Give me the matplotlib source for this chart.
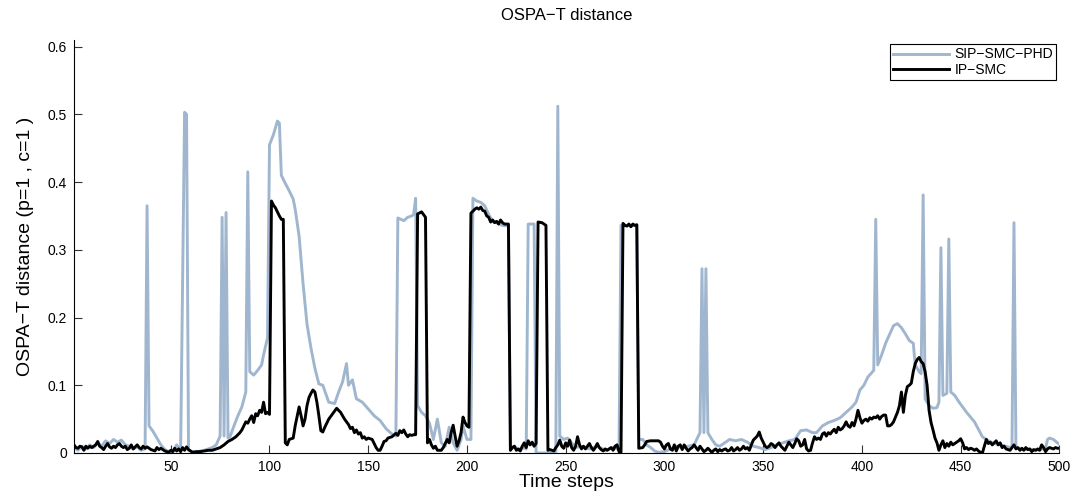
import matplotlib
matplotlib.use("Agg")
import matplotlib.pyplot as plt

plt.rcParams['font.family'] = ['Liberation Sans', 'DejaVu Sans']

title = "OSPA\u2212T distance"
xlabel = "Time steps"
ylabel = "OSPA\u2212T distance (p=1 , c=1 )"
series_names = ["SIP\u2212SMC\u2212PHD", "IP\u2212SMC"]
xticks = [50, 100, 150, 200, 250, 300, 350, 400, 450, 500]
yticks = [0, 0.1, 0.2, 0.3, 0.4, 0.5, 0.6]
ytick_labels = ["0", "0.1", "0.2", "0.3", "0.4", "0.5", "0.6"]

# SIP-SMC-PHD (time step, distance)
sip_points = [
    (1, 0.008), (3, 0.004), (5, 0.01), (7, 0.006), (9, 0.012), (11, 0.008), (13, 0.015), (15, 0.01),
    (17, 0.018), (19, 0.014), (21, 0.02), (23, 0.016), (25, 0.019), (27, 0.012), (29, 0.01), (31, 0.006),
    (33, 0.009), (35, 0.004), (37, 0.006), (38, 0.365), (39, 0.04), (41, 0.032), (43, 0.022), (45, 0.012),
    (47, 0.005), (49, 0.002), (51, 0.001), (53, 0.012), (55, 0.004), (57, 0.503), (58, 0.5), (59, 0.004),
    (61, 0.002), (63, 0.001), (65, 0.003), (67, 0.004), (69, 0.006), (71, 0.008), (73, 0.012), (75, 0.025),
    (76, 0.348), (77, 0.025), (78, 0.355), (79, 0.022), (80, 0.024), (82, 0.04), (84, 0.055), (86, 0.068),
    (88, 0.09), (89, 0.415), (90, 0.12), (92, 0.115), (94, 0.122), (96, 0.13), (97, 0.145), (99, 0.17),
    (100, 0.455), (102, 0.47), (104, 0.49), (105, 0.487), (106, 0.41), (108, 0.398), (110, 0.387),
    (112, 0.375), (113, 0.36), (115, 0.32), (117, 0.25), (119, 0.19), (121, 0.155), (123, 0.125),
    (125, 0.102), (127, 0.1), (130, 0.075), (133, 0.073), (135, 0.09), (137, 0.105), (139, 0.132),
    (140, 0.1), (142, 0.108), (144, 0.08), (147, 0.075), (150, 0.065), (153, 0.055), (156, 0.048),
    (159, 0.036), (162, 0.028), (164, 0.025), (165, 0.347), (168, 0.343), (170, 0.348), (172, 0.35),
    (173, 0.352), (174, 0.376), (175, 0.07), (177, 0.06), (179, 0.055), (181, 0.044), (183, 0.02),
    (185, 0.05), (187, 0.015), (189, 0.01), (191, 0.038), (193, 0.015), (195, 0.004), (197, 0.02),
    (198, 0.04), (200, 0.02), (202, 0.02), (203, 0.376), (205, 0.372), (207, 0.37), (209, 0.365),
    (211, 0.352), (213, 0.342), (215, 0.34), (218, 0.336), (221, 0.335), (222, 0.005), (224, 0.01),
    (226, 0.004), (228, 0.008), (230, 0.006), (231, 0.338), (234, 0.338), (235, 0.0), (237, 0.0),
    (240, 0.0), (243, 0.0), (245, 0.001), (246, 0.512), (247, 0.025), (249, 0.02), (251, 0.022),
    (253, 0.015), (255, 0.008), (258, 0.01), (262, 0.006), (266, 0.01), (270, 0.004), (274, 0.008),
    (277, 0.005), (278, 0.336), (286, 0.336), (287, 0.02), (289, 0.02), (291, 0.012), (293, 0.008),
    (295, 0.003), (297, 0.001), (300, 0.002), (303, 0.006), (306, 0.01), (309, 0.008), (312, 0.01),
    (315, 0.012), (318, 0.03), (319, 0.272), (320, 0.03), (321, 0.272), (322, 0.03), (324, 0.02),
    (326, 0.012), (328, 0.01), (330, 0.014), (333, 0.02), (336, 0.018), (339, 0.02), (342, 0.016),
    (345, 0.01), (348, 0.008), (351, 0.005), (354, 0.008), (357, 0.012), (360, 0.015), (363, 0.018),
    (366, 0.02), (369, 0.033), (372, 0.034), (375, 0.03), (377, 0.03), (380, 0.04), (383, 0.045),
    (386, 0.048), (389, 0.052), (392, 0.06), (395, 0.068), (397, 0.075), (399, 0.093), (401, 0.1),
    (403, 0.112), (406, 0.122), (407, 0.345), (408, 0.13), (410, 0.145), (412, 0.162), (414, 0.175),
    (416, 0.188), (418, 0.191), (420, 0.185), (422, 0.176), (424, 0.166), (426, 0.162), (427, 0.13),
    (429, 0.12), (430, 0.117), (431, 0.381), (432, 0.08), (434, 0.07), (436, 0.066), (438, 0.067),
    (439, 0.075), (440, 0.303), (441, 0.085), (443, 0.088), (444, 0.316), (445, 0.09), (447, 0.085),
    (449, 0.076), (451, 0.068), (453, 0.06), (455, 0.053), (457, 0.046), (459, 0.035), (461, 0.024),
    (464, 0.018), (467, 0.014), (470, 0.012), (473, 0.01), (475, 0.008), (476, 0.01), (477, 0.34),
    (478, 0.008), (481, 0.005), (484, 0.006), (487, 0.004), (490, 0.005), (493, 0.007), (494, 0.02),
    (495, 0.022), (497, 0.02), (499, 0.015), (500, 0.013),
]

# IP-SMC (time step, distance)
ip_points = [
    (1, 0.012), (2, 0.008), (3, 0.007), (4, 0.01), (5, 0.009), (6, 0.004), (7, 0.01), (8, 0.007),
    (9, 0.01), (10, 0.008), (11, 0.01), (12, 0.012), (13, 0.017), (14, 0.01), (15, 0.008), (16, 0.005),
    (17, 0.01), (18, 0.014), (19, 0.009), (20, 0.007), (21, 0.01), (22, 0.008), (23, 0.012), (24, 0.014),
    (25, 0.01), (26, 0.008), (27, 0.01), (28, 0.005), (29, 0.007), (30, 0.012), (31, 0.006), (32, 0.009),
    (33, 0.012), (34, 0.008), (35, 0.006), (36, 0.01), (37, 0.007), (38, 0.009), (40, 0.005), (42, 0.003),
    (43, 0.008), (44, 0.005), (45, 0.007), (47, 0.003), (49, 0.001), (50, 0.004), (51, 0.002), (52, 0.007),
    (53, 0.003), (54, 0.006), (55, 0.002), (56, 0.008), (57, 0.004), (58, 0.009), (59, 0.005), (60, 0.003),
    (61, 0.001), (63, 0.002), (65, 0.002), (67, 0.003), (69, 0.004), (71, 0.004), (73, 0.006), (75, 0.008),
    (77, 0.012), (79, 0.017), (81, 0.02), (83, 0.024), (85, 0.03), (86, 0.034), (87, 0.04), (88, 0.046),
    (89, 0.044), (90, 0.05), (91, 0.055), (92, 0.045), (93, 0.058), (94, 0.055), (95, 0.063), (96, 0.06),
    (97, 0.075), (98, 0.058), (99, 0.06), (100, 0.057), (101, 0.372), (102, 0.366), (103, 0.362),
    (104, 0.356), (105, 0.35), (106, 0.345), (107, 0.345), (108, 0.015), (109, 0.012), (110, 0.02),
    (112, 0.022), (113, 0.04), (115, 0.068), (116, 0.055), (117, 0.04), (118, 0.05), (119, 0.07),
    (120, 0.082), (121, 0.088), (122, 0.093), (123, 0.09), (124, 0.075), (125, 0.055), (126, 0.033),
    (127, 0.031), (128, 0.038), (130, 0.05), (132, 0.058), (134, 0.066), (136, 0.06), (137, 0.055),
    (138, 0.05), (139, 0.046), (140, 0.042), (141, 0.036), (142, 0.038), (143, 0.03), (144, 0.034),
    (145, 0.028), (146, 0.03), (147, 0.022), (148, 0.024), (149, 0.02), (150, 0.022), (152, 0.02),
    (154, 0.008), (155, 0.004), (156, 0.004), (157, 0.01), (158, 0.017), (159, 0.018), (160, 0.022),
    (162, 0.024), (164, 0.029), (165, 0.026), (166, 0.033), (167, 0.03), (168, 0.034), (169, 0.028),
    (170, 0.024), (171, 0.027), (172, 0.026), (173, 0.027), (174, 0.027), (175, 0.353), (177, 0.356),
    (179, 0.348), (180, 0.015), (181, 0.02), (182, 0.012), (183, 0.007), (184, 0.01), (185, 0.004),
    (187, 0.004), (188, 0.008), (189, 0.014), (190, 0.02), (191, 0.015), (192, 0.03), (193, 0.041),
    (194, 0.025), (195, 0.01), (196, 0.018), (197, 0.03), (198, 0.053), (199, 0.045), (200, 0.04),
    (201, 0.038), (202, 0.354), (204, 0.36), (205, 0.362), (206, 0.36), (207, 0.363), (208, 0.358),
    (209, 0.357), (210, 0.35), (211, 0.348), (212, 0.341), (213, 0.344), (214, 0.34), (215, 0.342),
    (216, 0.338), (217, 0.344), (218, 0.34), (219, 0.338), (221, 0.338), (222, 0.004), (223, 0.008),
    (224, 0.01), (225, 0.004), (226, 0.006), (227, 0.003), (228, 0.01), (229, 0.015), (230, 0.008),
    (231, 0.018), (232, 0.012), (233, 0.016), (234, 0.01), (235, 0.014), (236, 0.341), (238, 0.34),
    (240, 0.336), (241, 0.004), (242, 0.005), (244, 0.003), (245, 0.008), (246, 0.012), (247, 0.019),
    (248, 0.01), (249, 0.007), (250, 0.015), (251, 0.01), (252, 0.019), (253, 0.008), (254, 0.004),
    (255, 0.01), (256, 0.024), (257, 0.012), (258, 0.006), (259, 0.01), (260, 0.006), (261, 0.01),
    (262, 0.014), (263, 0.008), (264, 0.004), (265, 0.008), (266, 0.014), (267, 0.008), (268, 0.005),
    (269, 0.003), (270, 0.006), (271, 0.004), (272, 0.006), (273, 0.008), (274, 0.004), (275, 0.01),
    (276, 0.012), (277, 0.002), (278, 0.001), (279, 0.339), (280, 0.336), (281, 0.335), (282, 0.338),
    (283, 0.334), (284, 0.338), (285, 0.336), (286, 0.337), (287, 0.007), (289, 0.008), (290, 0.012),
    (291, 0.017), (293, 0.018), (295, 0.018), (297, 0.018), (298, 0.016), (299, 0.01), (300, 0.006),
    (301, 0.012), (302, 0.014), (303, 0.006), (304, 0.004), (305, 0.012), (306, 0.003), (307, 0.01),
    (308, 0.012), (309, 0.005), (310, 0.012), (311, 0.007), (312, 0.003), (313, 0.006), (314, 0.008),
    (315, 0.012), (316, 0.008), (317, 0.004), (318, 0.01), (319, 0.006), (320, 0.002), (321, 0.004),
    (322, 0.007), (323, 0.004), (324, 0.001), (325, 0.004), (326, 0.006), (327, 0.002), (328, 0.005),
    (329, 0.003), (330, 0.005), (331, 0.006), (332, 0.003), (333, 0.004), (334, 0.008), (335, 0.003),
    (336, 0.005), (337, 0.008), (338, 0.004), (339, 0.006), (340, 0.01), (341, 0.006), (342, 0.008),
    (343, 0.004), (344, 0.012), (345, 0.019), (346, 0.022), (347, 0.025), (348, 0.031), (349, 0.022),
    (350, 0.016), (351, 0.01), (352, 0.008), (353, 0.01), (354, 0.014), (355, 0.012), (356, 0.008),
    (357, 0.012), (358, 0.015), (359, 0.01), (360, 0.007), (361, 0.004), (362, 0.01), (363, 0.016),
    (364, 0.012), (365, 0.008), (366, 0.014), (367, 0.021), (368, 0.018), (369, 0.01), (370, 0.012),
    (371, 0.02), (372, 0.006), (373, 0.003), (374, 0.004), (375, 0.015), (376, 0.024), (377, 0.02),
    (378, 0.022), (379, 0.02), (380, 0.028), (381, 0.03), (382, 0.025), (383, 0.03), (384, 0.028),
    (385, 0.032), (386, 0.035), (387, 0.03), (388, 0.038), (389, 0.034), (390, 0.036), (391, 0.04),
    (392, 0.046), (393, 0.04), (394, 0.038), (395, 0.045), (396, 0.04), (397, 0.05), (398, 0.063),
    (399, 0.052), (400, 0.044), (401, 0.048), (402, 0.05), (403, 0.047), (404, 0.052), (405, 0.05),
    (406, 0.053), (407, 0.052), (408, 0.055), (409, 0.05), (410, 0.054), (411, 0.056), (412, 0.056),
    (413, 0.04), (414, 0.04), (415, 0.042), (416, 0.046), (417, 0.053), (418, 0.06), (419, 0.07),
    (420, 0.09), (421, 0.06), (422, 0.085), (423, 0.098), (424, 0.1), (425, 0.103), (426, 0.12),
    (427, 0.132), (428, 0.138), (429, 0.141), (430, 0.135), (431, 0.132), (432, 0.12), (433, 0.1),
    (434, 0.063), (435, 0.045), (436, 0.034), (437, 0.022), (438, 0.015), (439, 0.004), (440, 0.012),
    (441, 0.018), (442, 0.008), (443, 0.014), (444, 0.01), (445, 0.016), (446, 0.012), (447, 0.014),
    (448, 0.016), (449, 0.018), (450, 0.021), (451, 0.015), (452, 0.006), (453, 0.008), (454, 0.005),
    (455, 0.007), (456, 0.006), (457, 0.004), (458, 0.006), (459, 0.003), (460, 0.001), (461, 0.0),
    (462, 0.01), (463, 0.02), (464, 0.014), (465, 0.016), (466, 0.012), (467, 0.015), (468, 0.018),
    (469, 0.012), (470, 0.015), (471, 0.008), (472, 0.01), (473, 0.006), (474, 0.005), (475, 0.004),
    (476, 0.008), (477, 0.012), (478, 0.006), (479, 0.008), (480, 0.004), (481, 0.007), (482, 0.004),
    (483, 0.008), (484, 0.005), (485, 0.006), (486, 0.002), (487, 0.005), (488, 0.004), (489, 0.006),
    (490, 0.004), (491, 0.012), (492, 0.008), (493, 0.002), (494, 0.006), (495, 0.008), (496, 0.007),
    (497, 0.006), (498, 0.008), (499, 0.007), (500, 0.007),
]

sip_t, sip_v = zip(*sip_points)
ip_t, ip_v = zip(*ip_points)

fig = plt.figure(figsize=(10.74, 4.99), dpi=100)
ax = fig.add_axes([0.0689, 0.0922, 0.9175, 0.828])

ax.plot(sip_t, sip_v, color='#a0b6cf', lw=2.1, label=series_names[0])
ax.plot(ip_t, ip_v, color='black', lw=2.1, label=series_names[1])

ax.set_xlim(1, 500)
ax.set_ylim(0, 0.61)
ax.set_xticks(xticks)
ax.set_yticks(yticks)
ax.set_yticklabels(ytick_labels)
ax.spines['top'].set_visible(False)
ax.spines['right'].set_visible(False)
ax.spines['left'].set_linewidth(0.8)
ax.spines['bottom'].set_linewidth(0.8)
ax.tick_params(axis='both', direction='in', length=6, width=0.8, labelsize=10, colors='#333333',
               labelcolor='black', pad=5)

ax.set_title(title, fontsize=12, pad=14)
ax.set_xlabel(xlabel, fontsize=14, labelpad=0)
ax.set_ylabel(ylabel, fontsize=14, labelpad=10)

leg = ax.legend(loc='upper right', bbox_to_anchor=(0.997, 0.99), borderaxespad=0,
                fancybox=False, edgecolor='black', framealpha=1, fontsize=10,
                handlelength=4.0, borderpad=0.25, labelspacing=0.1, handletextpad=0.4)
leg.get_frame().set_linewidth(0.8)

fig.savefig('out.png', dpi=100)
